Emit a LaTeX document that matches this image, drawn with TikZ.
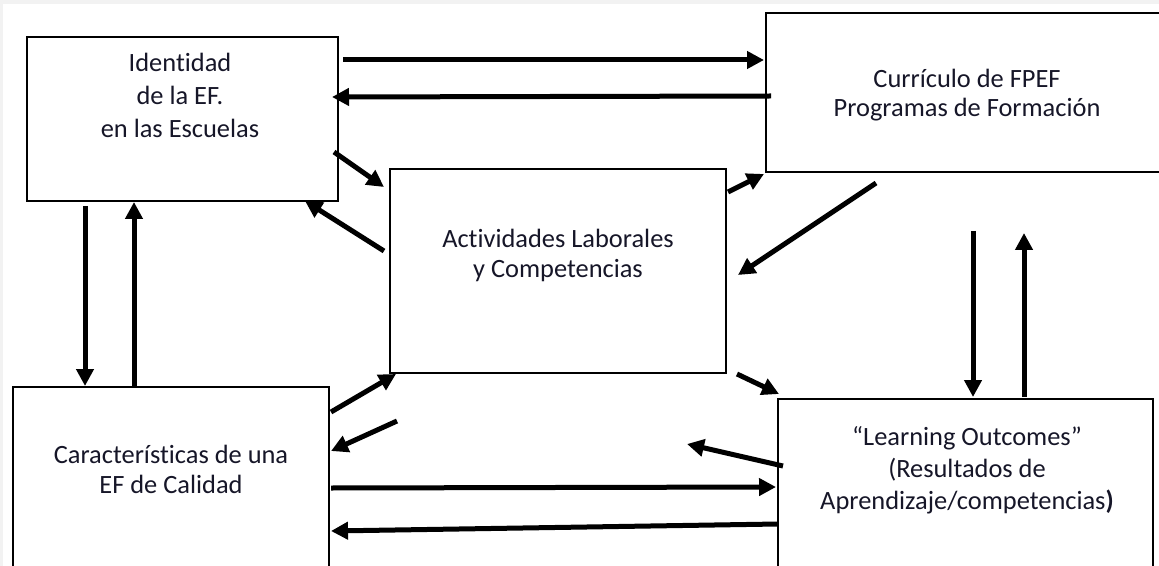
\documentclass[tikz,border=0pt]{standalone}
\usepackage{fontspec}
\setmainfont{Carlito}[Ligatures=CommonOff]
\definecolor{framegray}{RGB}{242,242,242}
\definecolor{textnavy}{RGB}{22,22,40}
\usetikzlibrary{calc}
\usetikzlibrary{arrows.meta}
\tikzset{
  box/.style={draw, line width=1pt, rectangle, inner sep=0pt},
  lbl/.style={align=center, text=textnavy, inner sep=0pt, font=\fontsize{13.2}{15}\selectfont},
  arr/.style={line width=2.5pt, -{Triangle[length=8.5pt,width=8.5pt]}}
}

\begin{document}
\begin{tikzpicture}[x=0.5pt, y=-0.5pt]
  \useasboundingbox (0,0) rectangle (1159,566);
  \fill [framegray] (0,0) rectangle (1159,566);
  \fill [white] (3,4) rectangle (1159,566);
  \clip (0,0) rectangle (1159,566);

  % boxes
  \node [box, minimum width=155.5pt, minimum height=82pt] (idn) at (182.5,119) {};
  \node [box, minimum width=204.5pt, minimum height=79.5pt] (cur) at (970.5,92.5) {};
  \node [box, minimum width=168pt, minimum height=102pt] (act) at (558,271) {};
  \node [box, minimum width=187.5pt, minimum height=95.5pt] (lo) at (965.5,494.5) {};
  \node [box, minimum width=158pt, minimum height=101.5pt] (car) at (171,488.5) {};

  % labels
  \node [lbl, font=\fontsize{13.2}{16.5}\selectfont] (idnlbl) at (180,95.5) {Identidad\\de la EF.\\en las Escuelas};
  \node [lbl, font=\fontsize{13.2}{14.5}\selectfont] (curlbl) at (967,95.5) {Currículo de FPEF\\Programas de Formación};
  \node [lbl] (actlbl) at (558,255.5) {Actividades Laborales\\y Competencias};
  \node [lbl, font=\fontsize{13.2}{16}\selectfont] (lolbl) at (967,470) {“Learning Outcomes”\\(Resultados de\\Aprendizaje/competencias\textbf{)}};
  \node [lbl] (carlbl) at (171,469.5) {Características de una\\EF de Calidad};

  % top row
  \draw [arr] ($(idn.north east)+(4,24)$) -- ($(cur.north west)+(-1,48)$);
  \draw [arr] ($(cur.north west)+(6,84)$) -- ($(idn.north east)+(-7,61)$);

  % around the centre box
  \draw [arr] ($(idn.south east)+(-5,-50)$) -- ($(act.north west)+(-5,19)$);
  \draw [arr] ($(act.west)+(-5,-20)$) -- ($(idn.south east)+(-34,-1)$);
  \draw [arr] ($(act.north east)+(1,24)$) -- ($(cur.south west)+(-1,1)$);
  \draw [arr] ($(cur.south west)+(111,10)$) -- ($(act.east)+(11,4)$);
  \draw [arr] ($(act.south east)+(10,0)$) -- ($(lo.north west)+(2,-4)$);
  \draw [arr] ($(car.north east)+(1,26)$) -- ($(act.south west)+(7,0)$);
  \draw [arr] ($(act.south west)+(8,47)$) -- ($(car.north east)+(1,65)$);
  \draw [arr] ($(lo.north west)+(6,68)$) -- ($(lo.north west)+(-90,46)$);

  % left and right columns
  \draw [arr] ($(idn.south west)+(59,4)$) -- ($(car.north west)+(73,0)$);
  \draw [arr] ($(car.north west)+(122,0)$) -- ($(idn.south west)+(108,0)$);
  \draw [arr] ($(cur.south west)+(208,58)$) -- ($(lo.north west)+(196,-1)$);
  \draw [arr] ($(lo.north west)+(247,-1)$) -- ($(cur.south west)+(259,60)$);

  % bottom row
  \draw [arr] ($(car.north east)+(1,102)$) -- ($(lo.north west)+(-1,89)$);
  \draw [arr] ($(lo.north west)+(1,126)$) -- ($(car.north east)+(1,145)$);
\end{tikzpicture}
\end{document}
